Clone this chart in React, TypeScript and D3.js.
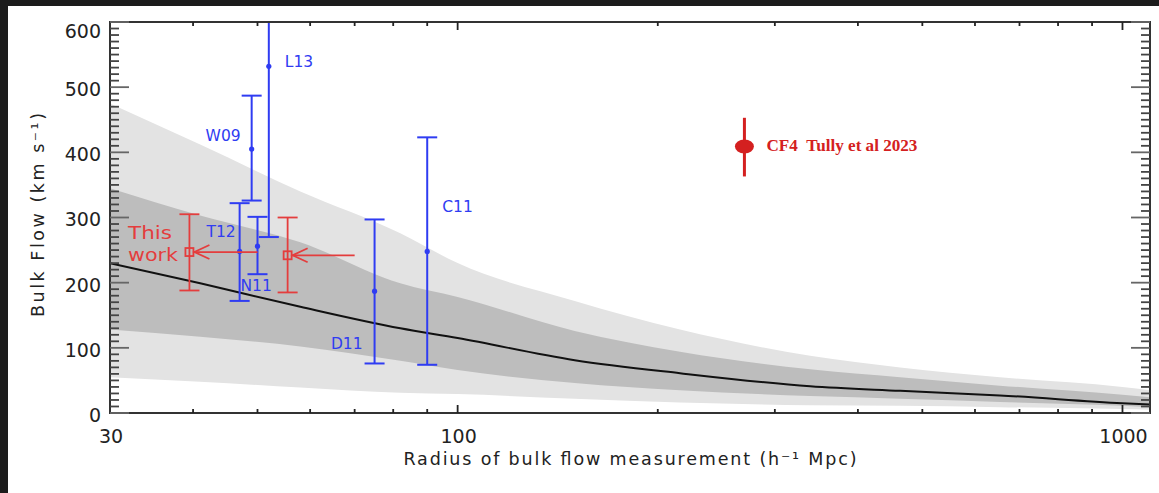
import React from "react";
import * as d3 from "d3";

// ---------- data ----------
const bandX = [30, 41, 58, 82, 100, 150, 216, 339, 463, 654, 1000, 1100];
const outerHi = [475, 412, 340, 276, 230, 172, 128, 88, 70, 55, 40, 35];
const innerHi = [345, 303, 262, 199, 178, 126, 94, 67, 55, 42, 28, 24];
const meanFlow = [230, 199, 163, 130, 115, 81, 61, 41, 34, 27, 15, 13];
const innerLo = [128, 117, 102, 80, 66, 46, 35, 26, 22, 17, 11, 9];
const outerLo = [55, 48, 39, 31, 29, 22, 16, 12, 11, 9, 6, 5];

const blueNames = ["W09", "L13", "T12", "N11", "D11", "C11"];
const blueX = [49, 52, 47, 50, 75, 90];
const blueY = [405, 532, 248, 256, 187, 248];
const blueLo = [326, 270, 172, 213, 76, 74];
const blueHi = [487, 800, 322, 301, 297, 423];

const redX = [39.5, 55.5];
const redY = [247, 242];
const redLo = [188, 185];
const redHi = [305, 300];
const redArrowFrom = [50, 70];

const cf4X = 270;
const cf4Y = 409;
const cf4Lo = 363;
const cf4Hi = 453;

const xTickLabels = [30, 100, 1000];
const yTickLabels = [0, 100, 200, 300, 400, 500, 600];

// label placement (styling offsets in px relative to point)
const blueLabelOffsets: [number, number, string][] = [
  [-11, -14, "end"],
  [16, -5, "start"],
  [-4, -20, "end"],
  [-17, 39, "start"],
  [-12, 52, "end"],
  [15, -45, "start"],
];

// ---------- layout ----------
const W = 1159;
const H = 493;
const L = 110, R = 1150, T = 22, B = 413;

const BLUE = "#2f3cf2";
const RED = "#e43d3d";
const CF4RED = "#d42020";
const AX = "#333";
const FONT = "DejaVu Sans, sans-serif";

export default function App() {
  const x = d3.scaleLog().domain([30, 1100]).range([L, R]);
  const y = d3.scaleLinear().domain([0, 600]).range([B, T]);

  const rows = bandX.map((v, i) => ({
    x: v, oh: outerHi[i], ih: innerHi[i], m: meanFlow[i], il: innerLo[i], ol: outerLo[i],
  }));
  const areaOuter = d3.area<any>().x(d => x(d.x)).y0(d => y(d.ol)).y1(d => y(d.oh)).curve(d3.curveMonotoneX);
  const areaInner = d3.area<any>().x(d => x(d.x)).y0(d => y(d.il)).y1(d => y(d.ih)).curve(d3.curveMonotoneX);
  const line = d3.line<any>().x(d => x(d.x)).y(d => y(d.m)).curve(d3.curveMonotoneX);

  const minorY = d3.range(0, 601, 10);
  const logTicks: number[] = [];
  for (const dec of [10, 100, 1000]) {
    for (let k = 1; k <= 9; k++) {
      const v = dec * k;
      if (v > 30 && v < 1100) logTicks.push(v);
    }
  }

  const cap = 10;

  return (
    <svg width={W} height={H} style={{ position: "absolute", left: 0, top: 0, background: "#fff" }}>
      <rect x={0} y={0} width={W} height={H} fill="#fff" />
      <rect x={0} y={0} width={W} height={6} fill="#1c1c1c" />
      <rect x={0} y={0} width={8} height={H} fill="#1c1c1c" />
      <defs>
        <clipPath id="plot">
          <rect x={L} y={T} width={R - L} height={B - T} />
        </clipPath>
      </defs>

      <g clipPath="url(#plot)">
        <path d={areaOuter(rows) as string} fill="#e3e3e3" />
        <path d={areaInner(rows) as string} fill="#bdbdbd" />
        <path d={line(rows) as string} fill="none" stroke="#111" strokeWidth={2} />

        {/* blue error bars */}
        {blueNames.map((n, i) => {
          const cx = x(blueX[i]);
          return (
            <g key={n} stroke={BLUE} strokeWidth={2}>
              <line x1={cx} x2={cx} y1={y(blueLo[i])} y2={y(blueHi[i])} />
              <line x1={cx - cap} x2={cx + cap} y1={y(blueLo[i])} y2={y(blueLo[i])} />
              <line x1={cx - cap} x2={cx + cap} y1={y(blueHi[i])} y2={y(blueHi[i])} />
              <circle cx={cx} cy={y(blueY[i])} r={2.6} fill={BLUE} stroke="none" />
            </g>
          );
        })}

        {/* red: this work */}
        {redX.map((v, i) => {
          const cx = x(v);
          const cy = y(redY[i]);
          return (
            <g key={i} stroke={RED} strokeWidth={1.8} fill="none">
              <line x1={cx} x2={cx} y1={y(redLo[i])} y2={y(redHi[i])} />
              <line x1={cx - cap} x2={cx + cap} y1={y(redLo[i])} y2={y(redLo[i])} />
              <line x1={cx - cap} x2={cx + cap} y1={y(redHi[i])} y2={y(redHi[i])} />
              <rect x={cx - 4} y={cy - 4} width={8} height={8} />
              <line x1={cx + 4} x2={x(redArrowFrom[i])} y1={cy} y2={cy} />
              <polyline points={`${cx + 20},${cy - 7} ${cx + 5},${cy} ${cx + 20},${cy + 7}`} />
            </g>
          );
        })}

        {/* CF4 */}
        <line x1={x(cf4X)} x2={x(cf4X)} y1={y(cf4Lo)} y2={y(cf4Hi)} stroke={CF4RED} strokeWidth={3} />
        <ellipse cx={x(cf4X)} cy={y(cf4Y)} rx={9.5} ry={7} fill={CF4RED} />
      </g>

      {/* blue labels */}
      {blueNames.map((n, i) => {
        const [dx, dy, anchor] = blueLabelOffsets[i];
        return (
          <text key={n} x={x(blueX[i]) + dx} y={y(blueY[i]) + dy} dy="0.36em"
            textAnchor={anchor} fontFamily={FONT} fontSize={15.5} fill={BLUE}>{n}</text>
        );
      })}

      {/* This work */}
      <text x={128} y={238.5} fontFamily={FONT} fontSize={18} fill={RED} textLength={44}
        lengthAdjust="spacingAndGlyphs">This</text>
      <text x={128} y={260.5} fontFamily={FONT} fontSize={18} fill={RED} textLength={50}
        lengthAdjust="spacingAndGlyphs">work</text>

      {/* CF4 label */}
      <text x={x(cf4X) + 22} y={y(cf4Y) + 5} fontFamily="Liberation Serif, serif" fontWeight="bold"
        fontSize={16.5} fill={CF4RED} textLength={151} lengthAdjust="spacingAndGlyphs"
        style={{ whiteSpace: "pre" }}>{"CF4\u00a0\u00a0Tully et al 2023"}</text>

      {/* axes box */}
      <rect x={L} y={T} width={R - L} height={B - T} fill="none" stroke={AX} strokeWidth={2} />

      {/* y ticks left & right */}
      {minorY.map(v => {
        const major = v % 100 === 0;
        const len = major ? 19 : 9;
        const yy = y(v);
        return (
          <g key={v} stroke={major ? "#666" : "#444"} strokeWidth={1.8}>
            <line x1={L} x2={L + len} y1={yy} y2={yy} />
            <line x1={R} x2={R - len} y1={yy} y2={yy} />
          </g>
        );
      })}

      {/* x ticks top & bottom */}
      {logTicks.map(v => {
        const major = v === 100 || v === 1000;
        const len = major ? 8 : 4;
        const xx = x(v);
        return (
          <g key={v} stroke="#222" strokeWidth={1.8}>
            <line x1={xx} x2={xx} y1={B} y2={B - len} />
            <line x1={xx} x2={xx} y1={T} y2={T + len} />
          </g>
        );
      })}

      {/* y tick labels */}
      {yTickLabels.map(v => (
        <text key={v} x={101} y={Math.max(y(v) + 2, 31)} dy="0.36em" textAnchor="end"
          fontFamily={FONT} fontSize={19} fill="#222">{v}</text>
      ))}

      {/* x tick labels */}
      {xTickLabels.map(v => (
        <text key={v} x={x(v) + 1} y={443} textAnchor="middle" fontFamily={FONT} fontSize={19} fill="#222">{v}</text>
      ))}

      {/* titles */}
      <text x={630} y={465} textAnchor="middle" fontFamily={FONT} fontSize={17.5} fill="#222"
        textLength={453} lengthAdjust="spacing">Radius of bulk flow measurement (h⁻¹ Mpc)</text>
      <text transform="translate(44,215) rotate(-90)" textAnchor="middle" fontFamily={FONT} fontSize={17.5}
        fill="#222" textLength={204} lengthAdjust="spacing">Bulk Flow (km s⁻¹)</text>
    </svg>
  );
}
